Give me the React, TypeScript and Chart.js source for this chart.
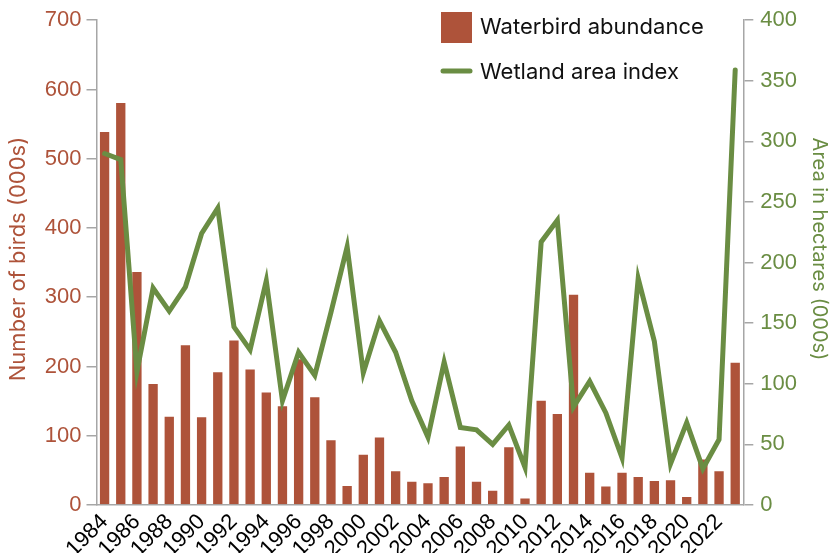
import React, { useEffect, useRef } from "react";
import { Chart, registerables } from "chart.js";

Chart.register(...registerables);

const years: string[] = [
  "1984", "1985", "1986", "1987", "1988", "1989", "1990", "1991", "1992", "1993",
  "1994", "1995", "1996", "1997", "1998", "1999", "2000", "2001", "2002", "2003",
  "2004", "2005", "2006", "2007", "2008", "2009", "2010", "2011", "2012", "2013",
  "2014", "2015", "2016", "2017", "2018", "2019", "2020", "2021", "2022", "2023",
];

const waterbirdAbundance: number[] = [
  540, 582, 338, 176, 129, 232, 128, 193, 239, 197,
  164, 144, 212, 157, 95, 29, 74, 99, 50, 35,
  33, 42, 86, 35, 22, 85, 11, 152, 133, 305,
  48, 28, 48, 42, 36, 37, 13, 67, 50, 207,
];

const wetlandAreaIndex: number[] = [
  290, 285, 110, 179, 160, 180, 224, 245, 147, 128,
  185, 86, 126, 107, 159, 213, 109, 152, 126, 86,
  56, 118, 64, 62, 50, 66, 31, 217, 235, 81,
  102, 76, 39, 187, 135, 34, 68, 30, 54, 359,
];

const leftTitle = "Number of birds (000s)";
const rightTitle = "Area in hectares (000s)";
const leftTicksMax = 700;
const rightTicksMax = 400;

const RED = "#AE533A";
const GREEN = "#6A8D43";
const AXIS = "#A6A6A6";

const legendPlugin = {
  id: "insideLegend",
  afterDatasetsDraw(chart: any) {
    const ctx = chart.ctx;
    const ds = chart.data.datasets;
    ctx.save();
    const x0 = 441;
    // bar swatch
    ctx.fillStyle = ds[1].backgroundColor;
    ctx.fillRect(x0, 12, 31, 31);
    ctx.font = "22px Inter";
    ctx.fillStyle = "#111";
    ctx.textBaseline = "middle";
    ctx.fillText(ds[1].label, 480, 27);
    // line swatch
    ctx.strokeStyle = ds[0].borderColor;
    ctx.lineWidth = 5;
    ctx.lineCap = "round";
    ctx.beginPath();
    ctx.moveTo(x0 + 2, 71);
    ctx.lineTo(x0 + 29, 71);
    ctx.stroke();
    ctx.fillText(ds[0].label, 480, 72);

    // axis titles
    ctx.textAlign = "center";
    ctx.textBaseline = "middle";
    ctx.save();
    ctx.translate(18, 259);
    ctx.rotate(-Math.PI / 2);
    ctx.fillStyle = RED;
    ctx.font = "22px Inter";
    ctx.fillText(leftTitle, 0, 0);
    ctx.restore();
    ctx.save();
    ctx.translate(819, 249);
    ctx.rotate(Math.PI / 2);
    ctx.fillStyle = GREEN;
    ctx.font = "20px Inter";
    ctx.fillText(rightTitle, 0, 0);
    ctx.restore();
    ctx.restore();
  },
};

export default function App() {
  const ref = useRef<HTMLCanvasElement>(null);
  useEffect(() => {
    document.body.style.margin = "0";
    const chart = new Chart(ref.current as HTMLCanvasElement, {
      type: "bar",
      data: {
        labels: years,
        datasets: [
          {
            type: "line",
            label: "Wetland area index",
            data: wetlandAreaIndex,
            yAxisID: "y1",
            borderColor: GREEN,
            backgroundColor: GREEN,
            borderWidth: 5,
            pointRadius: 0,
            tension: 0,
            borderJoinStyle: "miter",
            borderCapStyle: "round",
            order: 0,
          } as any,
          {
            type: "bar",
            label: "Waterbird abundance",
            data: waterbirdAbundance,
            yAxisID: "y",
            backgroundColor: RED,
            borderColor: "rgba(255,255,255,0.45)",
            borderWidth: 1,
            barPercentage: 0.7,
            categoryPercentage: 1,
            order: 1,
          } as any,
        ],
      },
      options: {
        responsive: false,
        animation: false,
        devicePixelRatio: 1,
        layout: { padding: { top: 19, right: 0, left: 0, bottom: 0 } },
        plugins: {
          legend: { display: false },
          tooltip: { enabled: false },
        },
        scales: {
          x: {
            offset: true,
            grid: { display: false, drawTicks: false },
            border: { display: true, color: AXIS, width: 1.5 },
            ticks: {
              autoSkip: false,
              maxRotation: 45,
              minRotation: 45,
              padding: 4,
              color: "#000",
              font: { family: "Liberation Sans", size: 22 },
              callback: (_v: any, i: number) => (i % 2 === 0 ? years[i] : ""),
            },
            afterFit: (s: any) => {
              s.height = 48;
            },
          },
          y: {
            position: "left",
            min: 0,
            max: leftTicksMax,
            ticks: {
              stepSize: 100,
              color: RED,
              padding: 5,
              font: { family: "Liberation Sans", size: 22 },
            },
            grid: {
              drawOnChartArea: false,
              tickLength: 10,
              color: AXIS,
              lineWidth: 1.5,
            },
            border: { display: true, color: AXIS, width: 1.5 },
            afterFit: (s: any) => {
              s.width = 96.5;
            },
          },
          y1: {
            position: "right",
            min: 0,
            max: rightTicksMax,
            ticks: {
              stepSize: 50,
              color: GREEN,
              padding: 7,
              font: { family: "Liberation Sans", size: 22 },
            },
            grid: {
              drawOnChartArea: false,
              tickLength: 10,
              color: AXIS,
              lineWidth: 1.5,
            },
            border: { display: true, color: AXIS, width: 1.5 },
            afterFit: (s: any) => {
              s.width = 91.7;
            },
          },
        },
      },
      plugins: [legendPlugin],
    });
    return () => chart.destroy();
  }, []);
  return (
    <div style={{ width: 835, height: 553 }}>
      <canvas ref={ref} width={835} height={553} style={{ display: "block" }} />
    </div>
  );
}
